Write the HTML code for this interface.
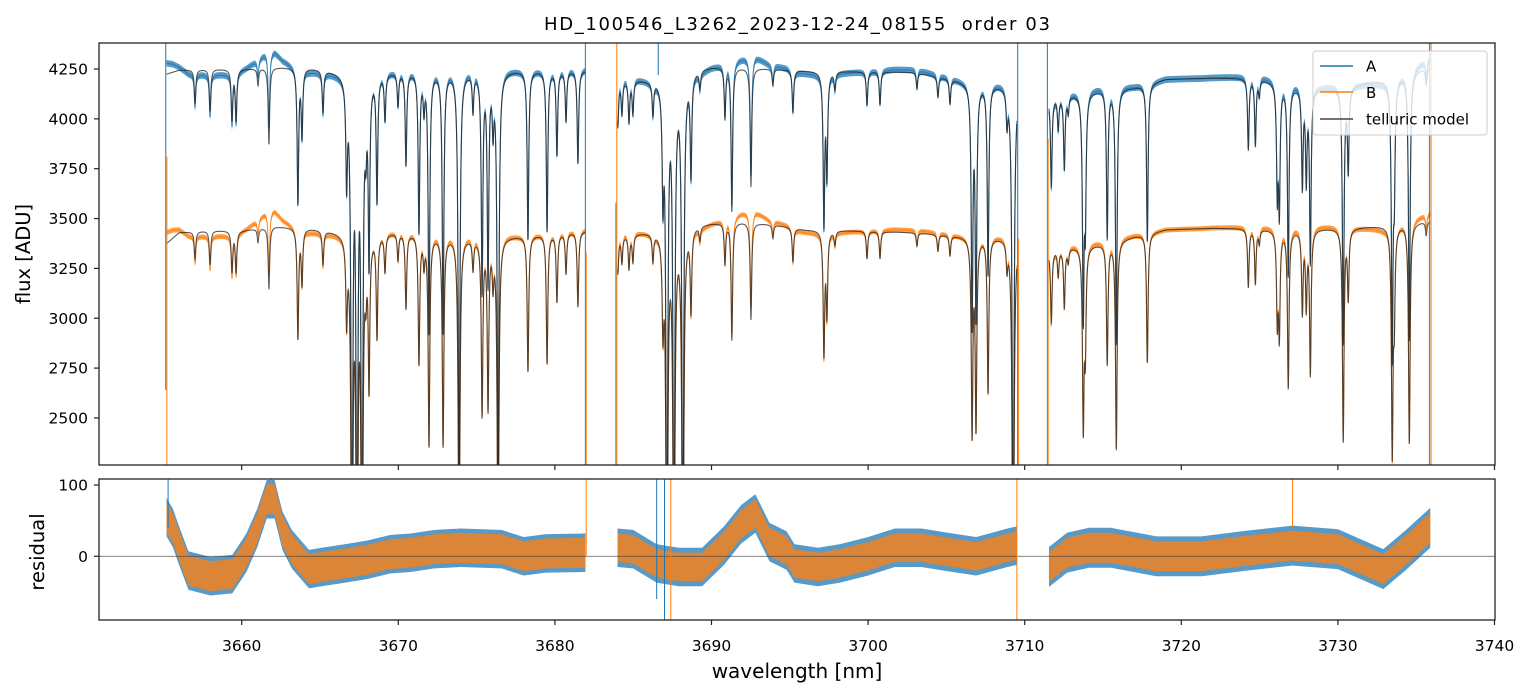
<!DOCTYPE html>
<html><head><meta charset="utf-8"><style>
html,body{margin:0;padding:0;background:#fff;}
svg{display:block;font-family:"DejaVu Sans","Liberation Sans",sans-serif;}
</style></head><body>
<svg id="chart" width="1530" height="696" viewBox="0 0 1530 696" xmlns="http://www.w3.org/2000/svg">
<defs>
<clipPath id="clipTop"><rect x="99" y="43" width="1396" height="422"/></clipPath>
<clipPath id="clipBot"><rect x="99" y="479" width="1396" height="141"/></clipPath>
</defs>
<rect x="0" y="0" width="1530" height="696" fill="#fff"/>
<text x="797" y="30" text-anchor="middle" font-size="18" textLength="506" xml:space="preserve">HD_100546_L3262_2023-12-24_08155  order 03</text>
<g id="topPanel" clip-path="url(#clipTop)"></g>
<g id="botPanel" clip-path="url(#clipBot)"></g>
<g id="axes"></g>
<text transform="translate(30,254) rotate(-90)" text-anchor="middle" font-size="19.5">flux [ADU]</text>
<text transform="translate(44,552) rotate(-90)" text-anchor="middle" font-size="19.5">residual</text>
<text x="797" y="678" text-anchor="middle" font-size="20">wavelength [nm]</text>
<g>
<rect x="1313" y="51" width="174" height="84" rx="3" fill="#fff" fill-opacity="0.8" stroke="#ccc" stroke-width="1"/>
<line x1="1320" y1="66" x2="1353" y2="66" stroke="#1f77b4" stroke-width="1.5"/>
<text x="1366" y="71.5" font-size="15">A</text>
<line x1="1320" y1="92" x2="1353" y2="92" stroke="#ff7f0e" stroke-width="1.5"/>
<text x="1366" y="98" font-size="15">B</text>
<line x1="1320" y1="119" x2="1353" y2="119" stroke="#444" stroke-width="1.5"/>
<text x="1366" y="124.5" font-size="15">telluric model</text>
</g>
</svg>
<script>
// ---- data ----
const segStart = [3655.2, 3684.0, 3711.55];
const segEnd   = [3681.95, 3709.5, 3735.9];
const lineWl = [3657.02,3657.98,3659.38,3659.64,3661.04,3661.74,3663.59,3663.85,3665.19,3666.7,3667.04,3667.36,3667.68,3667.93,3668.13,3668.64,3669.15,3669.98,3670.49,3671.32,3671.64,3671.96,3672.86,3673.88,3674.77,3675.35,3675.73,3676.05,3676.37,3678.28,3679.50,3680.13,3680.71,3681.47,
3684.02,3684.28,3684.73,3684.98,3686.26,3686.90,3687.15,3687.60,3688.17,3688.69,3689.26,3690.86,3691.30,3692.52,3693.92,3695.20,3697.18,3697.37,3697.88,3699.93,3700.76,3703.12,3704.46,3705.23,3706.64,3706.89,3707.66,3708.87,3709.26,
3711.70,3712.14,3712.53,3712.78,3713.74,3713.87,3715.27,3715.85,3717.83,3724.28,3724.73,3724.98,3726.13,3726.26,3726.83,3727.73,3727.98,3728.24,3730.34,3730.66,3733.47,3733.60,3734.56,3735.64];
const lineDepth = [0.04,0.05,0.06,0.06,0.02,0.09,0.16,0.08,0.05,0.12,0.6,0.6,0.6,0.06,0.22,0.15,0.055,0.04,0.11,0.19,0.04,0.31,0.31,0.5,0.045,0.26,0.25,0.06,0.5,0.2,0.19,0.1,0.06,0.11,
0.055,0.04,0.05,0.04,0.04,0.13,0.6,0.6,0.6,0.12,0.02,0.06,0.17,0.14,0.02,0.05,0.18,0.12,0.02,0.04,0.04,0.02,0.025,0.03,0.29,0.28,0.23,0.04,0.6,
0.11,0.04,0.09,0.02,0.27,0.15,0.18,0.31,0.19,0.085,0.08,0.02,0.13,0.15,0.23,0.12,0.11,0.21,0.31,0.1,0.33,0.12,0.32,0.02];
const contWl = [3655.2,3656,3658,3660,3662,3664,3666,3668,3670,3672,3675,3678,3681.95,
3684.0,3686,3688.5,3690,3692,3694,3696,3700,3703,3706,3709.5,
3711.55,3713,3715,3717,3719,3722,3725,3727,3729,3731,3733,3735.9];
const contA = [4225,4245,4250,4250,4260,4262,4245,4240,4240,4240,4238,4245,4245,
4195,4200,4250,4265,4260,4252,4242,4238,4235,4190,4165,
4115,4125,4150,4160,4200,4205,4205,4165,4150,4170,4200,4265];
const contB = [3375,3430,3440,3440,3462,3455,3440,3430,3435,3420,3405,3415,3440,
3415,3435,3468,3480,3485,3470,3445,3438,3430,3412,3405,
3345,3360,3375,3412,3445,3452,3450,3440,3450,3455,3465,3490];
const resWl = [3655.2,3655.6,3656.0,3656.6,3658.0,3659.4,3660.3,3661.0,3661.6,3662.1,3662.6,3663.2,3664.3,3665.1,3666.6,3668.0,3669.5,3670.8,3672.3,3674,3676.6,3678.0,3679.4,3681.95,
3684.0,3685,3686.5,3687.9,3689.4,3690.8,3691.9,3692.8,3693.7,3694.8,3695.3,3696.8,3698.2,3700,3701.7,3703.4,3705.1,3706.9,3708.9,3709.5,
3711.55,3712.7,3714.1,3715.5,3718.4,3721.3,3724.2,3727.1,3730,3732.9,3734.3,3735.9];
const resVal = [55,40,15,-20,-28,-25,5,40,80,80,36,10,-18,-15,-10,-5,3,5,10,12,10,0,4,5,
12,10,-10,-15,-15,15,45,60,20,8,-10,-15,-10,0,12,12,6,0,12,15,
-15,5,12,12,0,0,8,15,10,-18,8,40];
const noiseA = [27,27,28];
const noiseB = [21,20,21];
const spikeWl  = [3655.15,3655.22,3681.95,3682.0,3683.9,3683.95,3686.6,3709.55,3709.6,3711.45,3711.5,3735.85,3735.95];
const spikeSer = ["A","B","A","B","A","B","A","A","B","A","B","A","B"];
const spikeTop = [4400,3810,4400,3330,3580,4400,4400,4400,3400,4400,3900,4400,4400];
const spikeBot = [2640,2200,2200,2200,2200,2200,4220,2200,2200,2200,2200,2200,2200];
const resSpikeWl  = [3655.3,3661.9,3682.0,3687.0,3687.4,3709.5,3727.1,3686.5];
const resSpikeSer = ["A","B","B","A","B","B","B","A"];
const resSpikeHi  = [115,115,115,115,115,115,115,115];
const resSpikeLo  = [40,60,0,-95,-95,-95,40,-60];
const xTicks = [3660,3670,3680,3690,3700,3710,3720,3730,3740];
const yTicksTop = [2500,2750,3000,3250,3500,3750,4000,4250];
const yTicksRes = [0,100];

// ---- axis functions ----
const X  = wl => 241.7 + (wl - 3660) * 15.66;
const Y  = v  => 69 + (4250 - v) * 0.1994;
const YR = r  => 556.3 - r * 0.713;
const NS = "http://www.w3.org/2000/svg";
function mk(tag, attrs, parent){ const e=document.createElementNS(NS,tag); for(const k in attrs) e.setAttribute(k,attrs[k]); parent.appendChild(e); return e; }
function interp(xs, ys, x){
  if (x <= xs[0]) return ys[0];
  for (let i=1;i<xs.length;i++){ if (x <= xs[i]) { const t=(x-xs[i-1])/(xs[i]-xs[i-1]); return ys[i-1]+t*(ys[i]-ys[i-1]); } }
  return ys[ys.length-1];
}
const GAMMA = 0.055;
function transmission(wl){
  let tau = 0;
  for (let i=0;i<lineWl.length;i++){
    const u=(wl-lineWl[i])/GAMMA;
    tau += -Math.log(1-lineDepth[i]) / (1+u*u);
  }
  return Math.exp(-tau);
}
const topG = document.getElementById('topPanel');
const botG = document.getElementById('botPanel');
const axesG = document.getElementById('axes');
const STEP = 0.012;

const layers = {bandA:[],bandB:[],lineA:[],lineB:[],model:[]};
for (let s=0;s<segStart.length;s++){
  const pts=[];
  for (let wl=segStart[s]; wl<=segEnd[s]+1e-9; wl+=STEP){
    const t=transmission(wl), r=interp(resWl,resVal,wl);
    pts.push({wl, mA: interp(contWl,contA,wl)*t, mB: interp(contWl,contB,wl)*t, r});
  }
  const line = f => pts.map((p,i)=>(i?'L':'M')+X(p.wl).toFixed(2)+','+Y(f(p)).toFixed(2)).join('');
  const band = (f,h) => { const up=pts.map(p=>X(p.wl).toFixed(2)+','+Y(f(p)+h*0.6).toFixed(2)); const dn=pts.slice().reverse().map(p=>X(p.wl).toFixed(2)+','+Y(f(p)-h*0.6).toFixed(2)); return 'M'+up.join('L')+'L'+dn.join('L')+'Z'; };
  layers.bandA.push(band(p=>p.mA+p.r, noiseA[s]));
  layers.bandB.push(band(p=>p.mB+p.r, noiseB[s]));
  layers.lineA.push(line(p=>p.mA+p.r));
  layers.lineB.push(line(p=>p.mB+p.r));
  layers.model.push(line(p=>p.mA), line(p=>p.mB));
  const rb = (h) => { const up=pts.map(p=>X(p.wl).toFixed(2)+','+YR(p.r+h).toFixed(2)); const dn=pts.slice().reverse().map(p=>X(p.wl).toFixed(2)+','+YR(p.r-h).toFixed(2)); return 'M'+up.join('L')+'L'+dn.join('L')+'Z'; };
  const ra = mk('path',{d:rb(noiseA[s]),fill:'#1f77b4','fill-opacity':0.75},botG);
  
  
}
for (let s=0;s<segStart.length;s++){
  const pts=[];
  for (let wl=segStart[s]; wl<=segEnd[s]+1e-9; wl+=0.05) pts.push({wl, r: interp(resWl,resVal,wl)});
  const up=pts.map(p=>X(p.wl).toFixed(2)+','+YR(p.r+noiseB[s]).toFixed(2)); const dn=pts.slice().reverse().map(p=>X(p.wl).toFixed(2)+','+YR(p.r-noiseB[s]).toFixed(2));
  const rbB = mk('path',{d:'M'+up.join('L')+'L'+dn.join('L')+'Z',fill:'#ff7f0e','fill-opacity':0.78},botG);
  
  
}
const zl2 = mk('line',{x1:99,x2:1495,y1:YR(0),y2:YR(0),stroke:'#444','stroke-width':0.9,'stroke-opacity':0.75},botG);


for (let i=0;i<resSpikeWl.length;i++){
  const sp = mk('line',{x1:X(resSpikeWl[i]),x2:X(resSpikeWl[i]),y1:YR(resSpikeHi[i]),y2:YR(resSpikeLo[i]),stroke:resSpikeSer[i]==='A'?'#1f77b4':'#ff7f0e','stroke-width':1},botG);
  
  
}
layers.bandA.forEach(d=>{ const e=mk('path',{d,fill:'#1f77b4','fill-opacity':0.75},topG);   });
layers.lineA.forEach(d=>{ const e=mk('path',{d,fill:'none',stroke:'#1f77b4','stroke-width':1.1,'stroke-opacity':0.85},topG);   });
layers.bandB.forEach(d=>{ const e=mk('path',{d,fill:'#ff7f0e','fill-opacity':0.75},topG);   });
layers.lineB.forEach(d=>{ const e=mk('path',{d,fill:'none',stroke:'#ff7f0e','stroke-width':1.1,'stroke-opacity':0.85},topG);   });
layers.model.forEach(d=>{ const e=mk('path',{d,fill:'none',stroke:'#222','stroke-width':1.1,'stroke-opacity':0.75},topG);   });
for (let i=0;i<spikeWl.length;i++){
  const sp = mk('line',{x1:X(spikeWl[i]),x2:X(spikeWl[i]),y1:Y(spikeTop[i]),y2:Y(spikeBot[i]),stroke:spikeSer[i]==='A'?'#1f77b4':'#ff7f0e','stroke-width':1.2,'stroke-opacity':0.85},topG);
  
  
}
[[43,465],[479,620]].forEach(([y0,y1])=>{
  const r = mk('rect',{x:99,y:y0,width:1396,height:y1-y0,fill:'none',stroke:'#222','stroke-width':1.3},axesG);
  
  
});
xTicks.forEach(t=>{
  const x=X(t);
  const a=mk('line',{x1:x,x2:x,y1:465,y2:470,stroke:'#222','stroke-width':1.2},axesG);
  
  
  const b=mk('line',{x1:x,x2:x,y1:620,y2:625,stroke:'#222','stroke-width':1.2},axesG);
  
  
  const l=mk('text',{x:x,y:651,'text-anchor':'middle','font-size':15.5},axesG);
  l.textContent=t;
  
  
});
yTicksTop.forEach(t=>{
  const y=Y(t);
  const a=mk('line',{x1:94,x2:99,y1:y,y2:y,stroke:'#222','stroke-width':1.2},axesG);
  
  
  const l=mk('text',{x:88,y:y+5.5,'text-anchor':'end','font-size':15.5},axesG);
  l.textContent=t;
  
  
});
yTicksRes.forEach(t=>{
  const y=YR(t);
  const a=mk('line',{x1:94,x2:99,y1:y,y2:y,stroke:'#222','stroke-width':1.2},axesG);
  
  
  const l=mk('text',{x:88,y:y+5.5,'text-anchor':'end','font-size':15.5},axesG);
  l.textContent=t;
  
  
});
</script>
</body></html>
